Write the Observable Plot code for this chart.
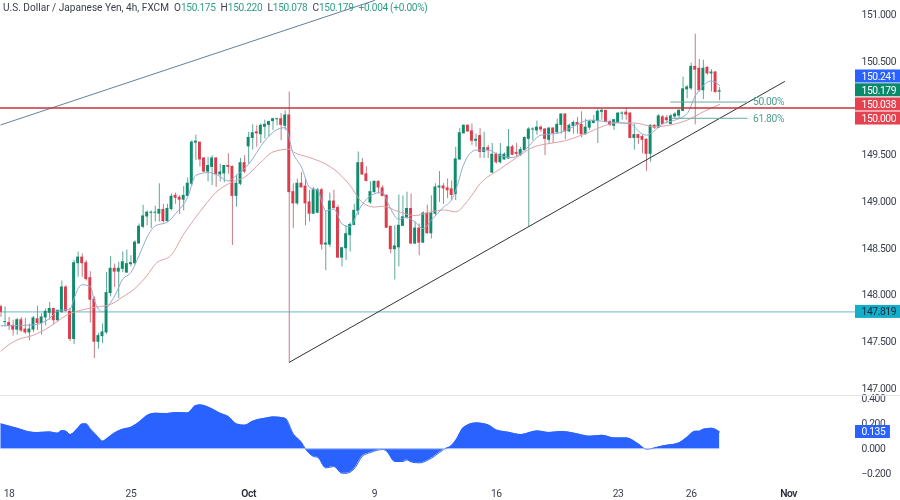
<!DOCTYPE html>
<html><head><meta charset="utf-8">
<script src="https://cdn.jsdelivr.net/npm/d3@7"></script>
<script src="https://cdn.jsdelivr.net/npm/@observablehq/plot@0.6"></script>
<style>
html,body{margin:0;padding:0;background:#fff;width:900px;height:500px;overflow:hidden;font-family:Roboto,sans-serif}
#wrap{position:relative;width:900px;height:500px;filter:blur(.3px)}
#wrap svg{display:block}
#wrap svg text{letter-spacing:-.4px}
#title{position:absolute;left:3px;top:1px;font:10.1px Roboto,sans-serif;color:#3a3f4c;white-space:pre;line-height:13px}
#title b{font-weight:400;color:#2f9d87;letter-spacing:-.3px}
#title i{font-style:normal;margin-left:5px}
</style></head><body>
<div id="wrap"><div id="price"></div><div id="osc"></div>
<div id="title">U.S. Dollar / Japanese Yen, 4h, FXCM<i>O</i><b>150.175</b><i>H</i><b>150.220</b><i>L</i><b>150.078</b><i>C</i><b>150.179</b><i></i><b>+0.004 (+0.00%)</b></div></div>
<script>
const opens=[147.87,147.71,147.70,147.67,147.63,147.73,147.63,147.60,147.63,147.74,
147.70,147.76,147.81,147.85,147.73,147.82,148.08,147.82,147.53,148.34,
148.40,148.34,148.18,147.95,147.50,147.56,147.60,148.02,148.28,148.25,
148.28,148.24,148.33,148.34,148.55,148.73,148.84,148.88,148.88,148.87,
148.91,148.79,148.92,149.06,149.04,149.02,149.06,149.19,149.63,149.63,
149.46,149.32,149.37,149.46,149.29,149.30,149.38,149.37,149.06,149.19,
149.41,149.59,149.68,149.74,149.72,149.80,149.82,149.86,149.88,149.88,
149.81,149.92,149.10,148.98,149.19,149.16,148.99,148.87,148.88,149.12,
148.54,148.54,149.00,148.93,148.40,148.50,148.64,148.75,148.90,149.41,
149.29,148.99,149.10,149.21,149.14,149.06,148.73,148.49,148.51,148.74,
148.83,148.92,148.55,148.71,148.56,148.87,148.66,148.87,149.15,149.16,
149.14,149.13,149.08,149.45,149.73,149.81,149.75,149.65,149.70,149.53,
149.57,149.31,149.50,149.42,149.45,149.46,149.58,149.52,149.50,149.55,
149.67,149.77,149.76,149.79,149.77,149.66,149.78,149.74,149.82,149.93,
149.75,149.81,149.84,149.82,149.72,149.79,149.84,149.86,149.96,149.97,
149.85,149.81,149.85,149.94,149.95,149.94,149.68,149.71,149.69,149.66,
149.51,149.81,149.79,149.90,149.89,149.83,149.91,149.92,149.97,150.20,
150.21,150.44,150.42,150.19,150.43,150.37,150.38,150.175];
const closes=[147.82,147.71,147.67,147.63,147.73,147.62,147.60,147.63,147.75,147.70,
147.76,147.82,147.85,147.73,147.83,148.08,147.83,147.53,148.34,148.40,
148.34,148.17,147.95,147.50,147.56,147.60,148.02,148.28,148.25,148.28,
148.35,148.33,148.34,148.56,148.73,148.84,148.88,148.88,148.88,148.91,
148.79,148.92,149.05,149.04,149.02,149.06,149.19,149.63,149.64,149.45,
149.32,149.38,149.46,149.29,149.31,149.38,149.37,149.06,149.19,149.41,
149.32,149.68,149.73,149.73,149.81,149.82,149.85,149.88,149.88,149.82,
149.92,149.10,148.98,149.19,149.15,148.98,148.87,149.12,149.12,148.54,
148.55,149.00,148.93,148.40,148.50,148.65,148.75,148.90,149.41,149.29,
149.22,149.10,149.21,149.15,149.06,148.72,148.49,148.52,148.74,148.83,
148.92,148.55,148.71,148.56,148.87,148.66,148.87,149.15,149.16,149.14,
149.12,149.07,149.45,149.73,149.81,149.75,149.65,149.66,149.53,149.57,
149.55,149.50,149.42,149.50,149.50,149.58,149.50,149.51,149.55,149.68,
149.77,149.77,149.79,149.77,149.67,149.78,149.73,149.82,149.93,149.75,
149.81,149.84,149.82,149.72,149.79,149.85,149.86,149.96,149.97,149.85,
149.82,149.87,149.94,149.94,149.93,149.68,149.71,149.68,149.66,149.51,
149.81,149.79,149.91,149.83,149.87,149.91,149.93,149.97,150.20,150.22,
150.44,150.41,150.19,150.42,150.37,150.38,150.17,150.179];
const highs=[147.89,147.87,147.76,147.73,147.75,147.76,147.75,147.69,147.77,147.88,
147.80,147.85,147.92,147.86,147.84,148.15,148.10,147.86,148.37,148.46,
148.44,148.37,148.25,147.98,147.59,147.69,148.24,148.41,148.33,148.35,
148.46,148.48,148.42,148.58,148.76,148.96,148.90,148.90,148.95,149.19,
148.97,148.97,149.08,149.09,149.06,149.16,149.25,149.65,149.71,149.63,
149.47,149.47,149.49,149.47,149.40,149.38,149.51,149.38,149.28,149.46,
149.49,149.74,149.82,149.81,149.83,149.87,149.86,149.89,149.89,149.94,
149.97,150.17,149.19,149.24,149.31,149.25,149.12,149.15,149.14,149.14,
148.90,149.09,149.12,148.96,148.51,148.74,148.77,148.97,149.53,149.46,
149.37,149.21,149.22,149.22,149.17,149.07,148.73,148.74,149.07,149.06,
149.10,149.08,148.78,148.76,148.89,148.96,149.06,149.19,149.32,149.19,
149.24,149.22,149.58,149.78,149.82,149.82,149.83,149.72,149.78,149.74,
149.60,149.62,149.52,149.62,149.52,149.77,149.60,149.62,149.58,149.69,
149.79,149.79,149.86,149.81,149.78,149.79,149.79,149.88,149.94,149.94,
149.83,149.86,149.90,149.96,149.88,149.87,149.92,149.99,149.99,149.97,
149.87,149.87,149.95,149.96,150.00,149.95,149.83,149.72,149.71,149.67,
149.82,149.82,149.93,149.92,149.92,149.93,149.95,149.98,150.33,150.24,
150.48,150.79,150.52,150.51,150.44,150.41,150.39,150.22];
const lows=[147.76,147.66,147.62,147.56,147.57,147.60,147.58,147.51,147.60,147.62,
147.57,147.67,147.73,147.68,147.71,147.80,147.82,147.50,147.47,148.19,
148.19,148.15,147.70,147.32,147.42,147.48,147.58,147.98,148.08,147.96,
148.24,148.23,148.30,148.32,148.55,148.71,148.74,148.71,148.78,148.78,
148.77,148.78,148.90,148.97,148.86,148.90,149.05,149.16,149.44,149.37,
149.31,149.21,149.17,149.15,149.21,149.20,149.29,148.53,148.94,149.17,
149.30,149.40,149.55,149.58,149.62,149.67,149.69,149.76,149.81,149.65,
149.76,147.28,148.71,148.96,149.15,148.74,148.78,148.86,148.87,148.48,
148.26,148.51,148.92,148.39,148.30,148.37,148.46,148.74,148.85,149.28,
149.21,148.97,149.09,149.08,149.05,148.71,148.44,148.16,148.30,148.73,
148.81,148.54,148.54,148.42,148.55,148.65,148.60,148.85,148.99,148.97,
149.03,149.01,149.01,149.44,149.72,149.74,149.60,149.58,149.46,149.46,
149.46,149.30,149.40,149.40,149.44,149.45,149.49,149.48,149.48,149.54,
148.73,149.65,149.71,149.74,149.49,149.62,149.62,149.72,149.72,149.66,
149.74,149.72,149.72,149.68,149.71,149.76,149.83,149.62,149.87,149.84,
149.80,149.76,149.84,149.87,149.87,149.67,149.55,149.61,149.51,149.32,
149.42,149.77,149.78,149.82,149.83,149.82,149.88,149.88,149.96,150.10,
150.19,149.82,150.17,150.09,150.35,150.17,150.16,150.078];

// fast moving average, read at [candle index, price]
const fastMA=[[0,147.67],[8,147.68],[12,147.75],[14,147.83],[17,147.85],[18,147.96],[19,148.07],[20,148.11],[22,148.09],[23,147.94],[25,147.82],[26,147.86],[28,147.99],[30,148.17],[32,148.24],[34,148.42],[36,148.62],[38,148.74],[41,148.78],[43,148.87],[46,149.05],[48,149.28],[51,149.31],[53,149.29],[56,149.22],[58,149.28],[61,149.40],[65,149.65],[68,149.77],[70,149.79],[72,149.51],[74,149.37],[76,149.15],[78,149.12],[80,148.90],[82,148.92],[84,148.76],[86,148.73],[88,148.90],[91,149.06],[94,149.10],[95,149.01],[98,148.81],[100,148.83],[102,148.78],[104,148.71],[106,148.80],[109,148.94],[111,149.02],[112,149.12],[114,149.40],[117,149.55],[120,149.55],[123,149.49],[126,149.47],[129,149.55],[133,149.71],[135,149.72],[138,149.74],[140,149.78],[145,149.87],[150,149.85],[155,149.83],[158,149.72],[159,149.71],[161,149.76],[163,149.83],[166,149.87],[169,149.94],[171,150.13],[172,150.19],[175,150.29],[177,150.241]];
// slow moving average, read at [candle index, price]
const slowMA=[[0,147.40],[2,147.47],[4,147.52],[8,147.57],[12,147.66],[16,147.78],[19,147.83],[22,147.86],[27,147.90],[30,147.98],[33,148.07],[36,148.21],[38,148.33],[42,148.43],[45,148.65],[49,148.89],[53,149.10],[57,149.21],[60,149.26],[64,149.42],[67,149.53],[71,149.56],[72,149.53],[76,149.47],[80,149.40],[83,149.31],[86,149.17],[89,148.99],[92,148.94],[94,148.95],[98,148.89],[102,148.85],[106,148.89],[109,148.91],[112,148.89],[115,149.01],[118,149.19],[123,149.35],[127,149.47],[131,149.58],[135,149.62],[139,149.65],[143,149.71],[152,149.84],[156,149.84],[161,149.80],[165,149.82],[169,149.87],[173,149.96],[177,150.038]];
// oscillator, read at [candle index, value]
const oscillator=[[0,.20],[4,.165],[7,.136],[9,.131],[12,.136],[14,.125],[15,.147],[16,.141],[17,.115],[19,.168],[20,.20],[21,.20],[22,.16],[24,.093],[25,.061],[26,.08],[28,.128],[30,.157],[32,.173],[34,.213],[36,.267],[38,.285],[41,.283],[43,.291],[46,.288],[48,.347],[49,.352],[52,.32],[54,.285],[56,.259],[58,.20],[60,.189],[62,.221],[65,.245],[67,.256],[70,.245],[72,.12],[74,.053],[75,0],[77,-.061],[78,-.067],[80,-.152],[82,-.141],[84,-.195],[85,-.195],[87,-.16],[89,-.059],[91,-.029],[94,-.005],[95,-.019],[97,-.101],[99,-.101],[100,-.088],[101,-.104],[103,-.112],[105,-.093],[107,-.053],[109,-.005],[111,.027],[112,.067],[114,.173],[117,.208],[120,.192],[122,.152],[125,.133],[128,.115],[132,.144],[135,.131],[138,.139],[142,.12],[145,.101],[148,.109],[151,.088],[154,.088],[157,.04],[159,-.003],[163,.024],[167,.048],[169,.093],[171,.141],[172,.141],[173,.157],[175,.165],[177,.135]];

const priceTicks=[147,147.5,148,148.5,149,149.5,150.5,151];
const oscTicks=[-.2,0,.2,.4];
const dayTickIdx=[2,32,92,122,152,170];
const dayTickLabels=["18","25","9","16","23","26"];
const monthTickIdx=[61,194];
const monthTickLabels=["Oct","Nov"];
const resistance=150.000, support=147.819;
const trendUp=[[71,147.28],[193,150.283]];
const trendOld=[[0,149.82],[92,151.15]];
const fib=[{i1:165,i2:184,p:150.064,label:"50.00%"},{i1:165,i2:184,p:149.89,label:"61.80%"}];
// right-edge price tags
const tagValues=[150.241,150.179,150.038,150.000,147.819];
const tagFills=["#2962ff","#0b8a6b","#e5414f","#e5414f","#14aecb"];
const tagInks=["#fff","#fff","#fff","#fff","#1d2a33"];
const tagShift=[-9,-1,0,10.5,0];

const candles=opens.map((o,i)=>({i,o,c:closes[i],h:highs[i],l:lows[i]}));
const up=candles.filter(d=>d.c>=d.o), down=candles.filter(d=>d.c<d.o);
const GREEN="#0f8b6d",RED="#dc3c4b",W=0.36;
const xDomain=[-0.12,210.47], FONT="Roboto,sans-serif";
const tail=11.1;
const tagMarks=tagValues.flatMap((v,k)=>[
  Plot.rect([v],{x1:()=>xDomain[1],x2:()=>xDomain[1]+tail,y1:d=>d,y2:d=>d,insetTop:-6.5+tagShift[k],insetBottom:-6.5-tagShift[k],fill:tagFills[k]}),
  Plot.text([v],{x:()=>xDomain[1],y:d=>d,text:d=>d.toFixed(3),textAnchor:"start",dx:6,dy:tagShift[k],fill:tagInks[k],fontSize:10.3})
]);
const price=Plot.plot({
  width:900,height:395,marginLeft:0,marginRight:45,marginTop:0,marginBottom:0,
  style:{background:"#fff",fontFamily:FONT,overflow:"visible"},
  x:{type:"linear",domain:xDomain,axis:null},
  y:{type:"linear",domain:[146.925,151.15],axis:null},
  marks:[
    Plot.axisY(priceTicks,{anchor:"right",tickSize:0,tickPadding:6,tickFormat:d3.format(".3f"),fontSize:10.3,fill:"#3a3f4c",label:null}),
    Plot.ruleY([support],{stroke:"#6bb9c4",strokeWidth:1}),
    Plot.ruleX(up,{x:"i",y1:"l",y2:"h",stroke:"#5aa896",strokeWidth:1}),
    Plot.ruleX(down,{x:"i",y1:"l",y2:"h",stroke:"#c97a84",strokeWidth:1}),
    Plot.rect(up,{x1:d=>d.i-W,x2:d=>d.i+W,y1:"o",y2:"c",insetTop:-.5,insetBottom:-.5,fill:GREEN}),
    Plot.rect(down,{x1:d=>d.i-W,x2:d=>d.i+W,y1:"o",y2:"c",insetTop:-.5,insetBottom:-.5,fill:RED}),
    Plot.line(slowMA,{x:d=>d[0],y:d=>d[1],stroke:"#e0a0a4",strokeWidth:1,curve:"monotone-x"}),
    Plot.line(fastMA,{x:d=>d[0],y:d=>d[1],stroke:"#93abd2",strokeWidth:1,curve:"monotone-x"}),
    Plot.line(trendOld,{x:d=>d[0],y:d=>d[1],stroke:"#687d9a",strokeWidth:1}),
    Plot.line(trendUp,{x:d=>d[0],y:d=>d[1],stroke:"#333",strokeWidth:1}),
    Plot.ruleY([resistance],{stroke:"#c5323f",strokeWidth:1.4}),
    Plot.ruleY(fib,{x1:"i1",x2:"i2",y:"p",stroke:"#67a99b",strokeWidth:1}),
    Plot.text(fib,{x:"i2",y:"p",text:"label",textAnchor:"start",dx:5,fill:"#4d9d8d",fontSize:10.3}),
    ...tagMarks
  ]
});
document.getElementById("price").append(price);

const osc=Plot.plot({
  width:900,height:105,marginLeft:0,marginRight:45,marginTop:0,marginBottom:18,
  style:{background:"#fff",fontFamily:FONT,overflow:"visible"},
  x:{type:"linear",domain:xDomain,axis:null},
  y:{type:"linear",domain:[-.269,.427],axis:null},
  marks:[
    Plot.axisY(oscTicks,{anchor:"right",tickSize:0,tickPadding:6,tickFormat:d3.format(".3f"),fontSize:10.3,fill:"#3a3f4c",label:null}),
    Plot.areaY(oscillator,{x:d=>d[0],y:d=>d[1],fill:"#2962ff",curve:"monotone-x"}),
    Plot.line(oscillator,{x:d=>d[0],y:d=>d[1],stroke:"#2962ff",strokeWidth:1,curve:"monotone-x"}),
    Plot.ruleY([0],{x1:()=>0,x2:()=>177,stroke:"#d6e0ff",strokeWidth:.6}),
    Plot.rect([.135],{x1:()=>xDomain[1],x2:()=>xDomain[1]+8.6,y1:d=>d,y2:d=>d,insetTop:-6.5,insetBottom:-6.5,fill:"#2962ff"}),
    Plot.text([.135],{x:()=>xDomain[1],y:d=>d,text:d=>d.toFixed(3),textAnchor:"start",dx:6,fill:"#fff",fontSize:10.3}),
    Plot.text(dayTickIdx,{x:d=>d,text:(d,k)=>dayTickLabels[k],frameAnchor:"bottom",dy:14,fill:"#3a3f4c",fontSize:10.3}),
    Plot.text(monthTickIdx,{x:d=>d,text:(d,k)=>monthTickLabels[k],frameAnchor:"bottom",dy:14,fill:"#2a2e39",fontWeight:600,fontSize:10.3}),
    Plot.ruleY([.427],{x1:()=>xDomain[0],x2:()=>xDomain[1]+tail,stroke:"#e0e3eb",strokeWidth:1})
  ]
});
document.getElementById("osc").append(osc);
</script></body></html>
